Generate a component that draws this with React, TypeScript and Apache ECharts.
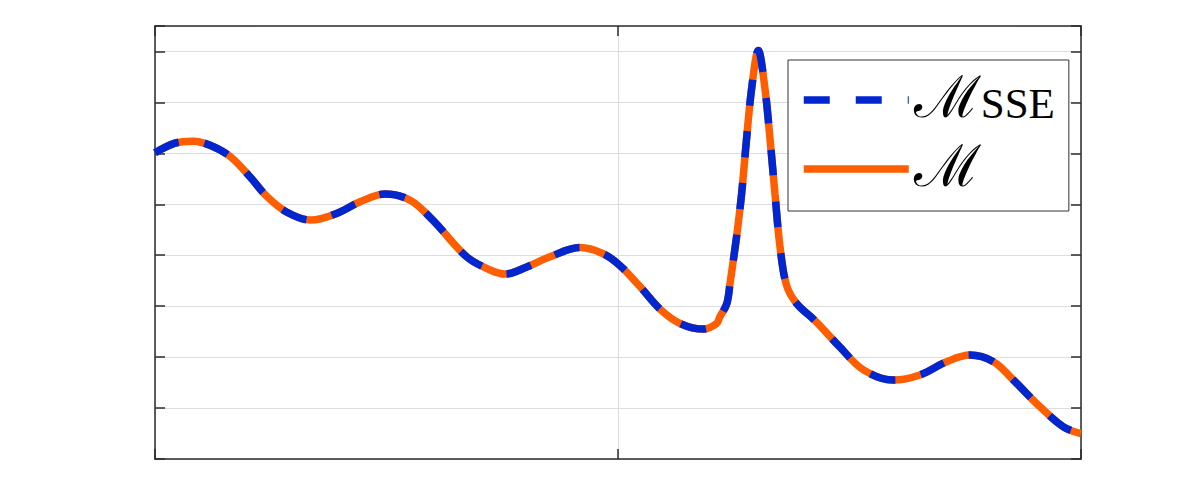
import React, { useEffect, useRef } from "react";
import * as echarts from "echarts";

// x positions (axis runs 0..2) and curve values
const xValues = [
  0, 0.043, 0.082, 0.119, 0.162, 0.205, 0.241, 0.284, 0.337, 0.392, 0.443, 0.497,
  0.551, 0.6, 0.673, 0.724, 0.756, 0.803, 0.853, 0.918, 0.968, 1.004, 1.048, 1.091,
  1.134, 1.184, 1.213, 1.22, 1.235, 1.242, 1.256, 1.267, 1.278, 1.289, 1.303, 1.317,
  1.328, 1.339, 1.35, 1.364, 1.386, 1.425, 1.479, 1.53, 1.595, 1.652, 1.71, 1.76,
  1.811, 1.854, 1.911, 1.962, 2.0,
];
const mValues = [
  6.01, 6.2, 6.24, 6.16, 5.94, 5.54, 5.16, 4.85, 4.69, 4.82, 5.05, 5.2,
  5.08, 4.69, 3.97, 3.71, 3.63, 3.77, 3.97, 4.15, 4.03, 3.8, 3.38, 2.94,
  2.66, 2.55, 2.66, 2.79, 3.05, 3.45, 4.36, 5.21, 6.32, 7.3, 8.02, 7.3,
  6.32, 5.21, 4.16, 3.41, 3.05, 2.72, 2.2, 1.75, 1.55, 1.65, 1.91, 2.04,
  1.91, 1.55, 1.03, 0.63, 0.5,
];
const mSseValues = [
  6.01, 6.2, 6.24, 6.16, 5.94, 5.54, 5.16, 4.85, 4.69, 4.82, 5.05, 5.2,
  5.08, 4.69, 3.97, 3.71, 3.63, 3.77, 3.97, 4.15, 4.03, 3.8, 3.38, 2.94,
  2.66, 2.55, 2.66, 2.79, 3.05, 3.45, 4.36, 5.21, 6.32, 7.3, 8.02, 7.3,
  6.32, 5.21, 4.16, 3.41, 3.05, 2.72, 2.2, 1.75, 1.55, 1.65, 1.91, 2.04,
  1.91, 1.55, 1.03, 0.63, 0.5,
];
const seriesNames = ["ℳSSE", "ℳ"];

const BLUE = "#0026cf";
const ORANGE = "#ff5e00";
const AXIS = "#2b2b2b";
const GRID = "#dddddd";
const LINE_W = 7.5;

export default function App() {
  const ref = useRef<HTMLDivElement>(null);
  useEffect(() => {
    if (!ref.current) return;
    const chart = echarts.init(ref.current, null, { renderer: "svg" });
    const zip = (ys: number[]) => xValues.map((x, i) => [x, ys[i]]);
    const axisCommon = {
      type: "value" as const,
      axisLine: { show: true, onZero: false, lineStyle: { color: AXIS, width: 1.5 } },
      axisTick: { show: true, inside: true, length: 10, lineStyle: { color: AXIS, width: 1.5 } },
      axisLabel: { show: false },
    };
    chart.setOption({
      animation: false,
      backgroundColor: "#ffffff",
      grid: { left: 155, right: 115, top: 26, bottom: 42, containLabel: false },
      xAxis: [
        { ...axisCommon, position: "bottom", min: 0, max: 2, interval: 1,
          splitLine: { show: true, lineStyle: { color: GRID, width: 1 } } },
        { ...axisCommon, position: "top", min: 0, max: 2, interval: 1, splitLine: { show: false } },
      ],
      yAxis: [
        { ...axisCommon, position: "left", min: 0, max: 8.5, interval: 1,
          splitLine: { show: true, lineStyle: { color: GRID, width: 1 } } },
        { ...axisCommon, position: "right", min: 0, max: 8.5, interval: 1, splitLine: { show: false } },
      ],
      legend: {
        data: seriesNames,
        orient: "vertical",
        left: 788,
        top: 60,
        padding: [8, 14, 10, 12],
        itemGap: 5,
        itemWidth: 105,
        itemHeight: 14,
        itemTextGap: 6,
        backgroundColor: "#ffffff",
        borderColor: "#333333",
        borderWidth: 1,
        borderRadius: 0,
        itemStyle: { opacity: 0 },
        lineStyle: { width: LINE_W },
        formatter: (name: string) =>
          name.length > 1 ? `{m|${name[0]}}{s|${name.slice(1)}}` : `{m|${name}}`,
        textStyle: {
          rich: {
            m: { fontFamily: "DejaVu Serif", fontSize: 58, lineHeight: 50, padding: [0, 0, 6, 0], color: "#000" },
            s: { fontFamily: "Liberation Serif", fontSize: 43, lineHeight: 16, verticalAlign: "bottom", color: "#000" },
          },
        },
      },
      series: [
        {
          name: seriesNames[1],
          type: "line",
          data: zip(mValues),
          smooth: 0.35,
          symbol: "none",
          z: 2,
          lineStyle: { color: ORANGE, width: LINE_W, type: "solid" },
          itemStyle: { color: ORANGE },
        },
        {
          name: seriesNames[0],
          type: "line",
          data: zip(mSseValues),
          smooth: 0.35,
          symbol: "none",
          z: 3,
          lineStyle: { color: BLUE, width: LINE_W, type: [26, 26], cap: "butt" },
          itemStyle: { color: BLUE },
        },
      ],
    });
    return () => chart.dispose();
  }, []);
  return (
    <div
      ref={ref}
      style={{ position: "absolute", left: 0, top: 0, width: 1196, height: 501, background: "#fff" }}
    />
  );
}
